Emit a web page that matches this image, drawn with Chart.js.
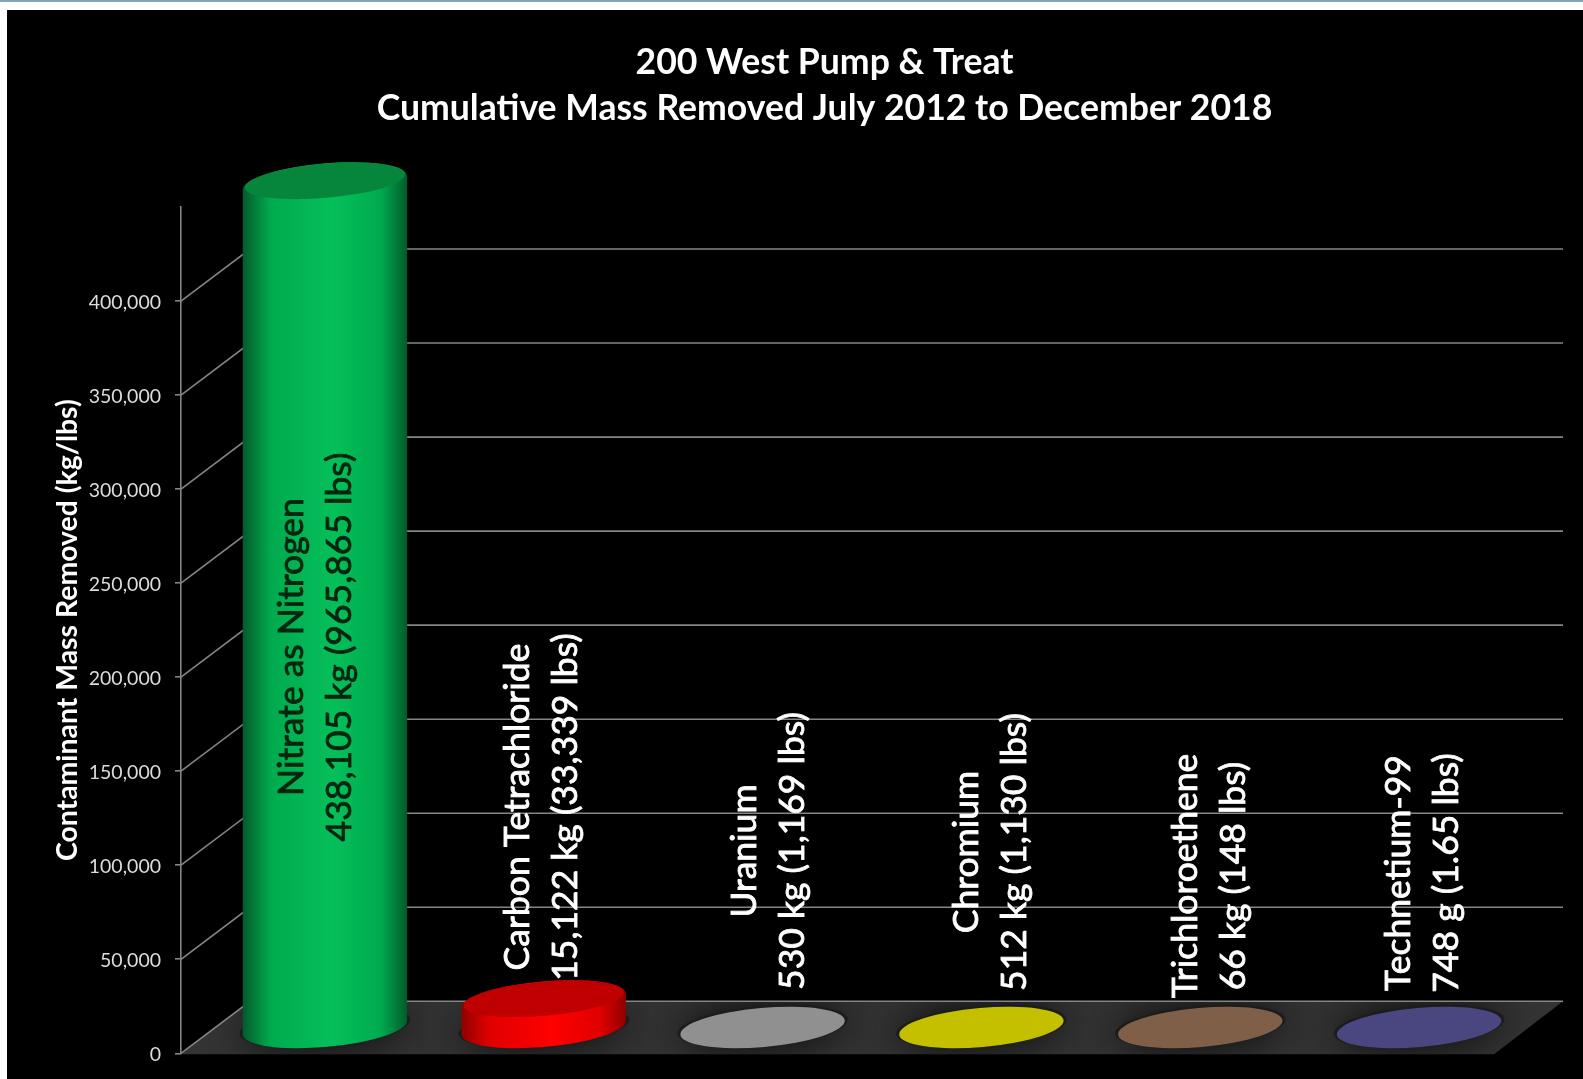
<!DOCTYPE html>
<html>
<head>
<meta charset="utf-8">
<title>200 West Pump &amp; Treat</title>
<style>
html,body{margin:0;padding:0;background:#fff;overflow:hidden;width:1583px;height:1079px}
#stripe{position:absolute;left:0;top:0;width:1583px;height:2px;background:#7fa6b4}
#chart{position:absolute;left:7px;top:10px;background:#000}
</style>
</head>
<body>
<div id="stripe"></div>
<canvas id="chart" width="1576" height="1069"></canvas>
<script src="https://cdn.jsdelivr.net/npm/chart.js@4"></script>
<script>
const titleLines = ['200 West Pump & Treat', 'Cumulative Mass Removed July 2012 to December 2018'];
const yAxisTitle = 'Contaminant Mass Removed (kg/lbs)';
const categories = ['Nitrate as Nitrogen', 'Carbon Tetrachloride', 'Uranium', 'Chromium', 'Trichloroethene', 'Technetium-99'];
const massLabels = ['438,105 kg (965,865 lbs)', '15,122 kg (33,339 lbs)', '530 kg (1,169 lbs)', '512 kg (1,130 lbs)', '66 kg (148 lbs)', '748 g (1.65 lbs)'];
// Plotted heights. The green column reaches the top of the
// axis (450,000) even though its printed label says 438,105 kg.
const plottedKg = [450000, 15122, 530, 512, 66, 0.748];
const barColors = ['#05bf5a', '#ff0000', '#909090', '#c4c000', '#7f5f47', '#4a4680'];
const midColors = ['#00aa4e', '#e00000', '#909090', '#c4c000', '#7f5f47', '#4a4680'];
const capColors = ['#06853d', '#c00000', '#909090', '#c4c000', '#7f5f47', '#4a4680'];
const edgeColors = ['#025a2b', '#8f0000', '#909090', '#c4c000', '#7f5f47', '#4a4680'];
const labelColors = ['#02250f', '#ffffff', '#ffffff', '#ffffff', '#ffffff', '#ffffff'];
const axisMax = 450000, axisStep = 50000;

// Reference look: projection of the 3D box and manual data-label placement.
const DEPTH_X = 69, DEPTH_Y = 52, RX = 82.5, RY = 19.5, TILT = -5 * Math.PI / 180;
const labelShift = [[25, 637], [32, 797], [40, 841], [44, 842], [44, 866], [38, 863]];
const LABEL_GAP = 48;

function ellipsePath(ctx, x, y, rx, ry) { ctx.beginPath(); ctx.ellipse(x, y, rx, ry, TILT, 0, Math.PI * 2); }

const box3d = {
  id: 'box3d',
  afterLayout(chart) { const t = chart.titleBlock; t.left += 74; t.right += 74; },
  beforeDatasetsDraw(chart) {
    const { ctx, chartArea: a, scales: { y } } = chart;
    ctx.save();
    // floor
    ctx.beginPath();
    ctx.moveTo(a.left, a.bottom + 1); ctx.lineTo(a.left + DEPTH_X, a.bottom - DEPTH_Y);
    ctx.lineTo(a.right + DEPTH_X, a.bottom - DEPTH_Y); ctx.lineTo(a.right, a.bottom + 1); ctx.closePath();
    ctx.fillStyle = '#343434'; ctx.fill();
    ctx.save(); ctx.clip();
    chart.getDatasetMeta(0).data.forEach(b => {
      ctx.shadowColor = 'rgba(0,0,0,0.85)'; ctx.shadowBlur = 42;
      ctx.fillStyle = '#1c1c1c';
      ellipsePath(ctx, b.x + DEPTH_X / 2, b.base - DEPTH_Y / 2, RX + 3, RY + 1); ctx.fill();
    });
    ctx.restore();
    // back wall and side wall lines
    ctx.lineWidth = 1.6; ctx.strokeStyle = '#858585';
    y.ticks.forEach(t => {
      const py = y.getPixelForValue(t.value);
      ctx.beginPath();
      ctx.moveTo(a.left, py); ctx.lineTo(a.left + DEPTH_X, py - DEPTH_Y); ctx.lineTo(a.right + DEPTH_X, py - DEPTH_Y);
      ctx.stroke();
    });
    ctx.restore();
  },
  beforeDatasetDraw() { return false; },
  afterDatasetsDraw(chart) {
    const { ctx } = chart;
    const bars = chart.getDatasetMeta(0).data;
    const t0 = Math.atan2(-RY * Math.sin(TILT), RX * Math.cos(TILT));
    const tipX = RX * Math.cos(t0) * Math.cos(TILT) - RY * Math.sin(t0) * Math.sin(TILT);
    const tipY = RX * Math.cos(t0) * Math.sin(TILT) + RY * Math.sin(t0) * Math.cos(TILT);
    bars.forEach((b, i) => {
      const cx = b.x + DEPTH_X / 2, yb = b.base - DEPTH_Y / 2 + 1, yt = b.y - DEPTH_Y / 2 + 2;
      const tall = yb - yt > 3;
      ctx.save();
      if (tall) {
        const g = ctx.createLinearGradient(cx - RX, 0, cx + RX, 0);
        g.addColorStop(0, edgeColors[i]); g.addColorStop(0.17, midColors[i]);
        g.addColorStop(0.55, barColors[i]); g.addColorStop(0.84, midColors[i]); g.addColorStop(1, edgeColors[i]);
        ctx.beginPath();
        ctx.ellipse(cx, yb, RX, RY, TILT, t0, t0 + Math.PI);
        ctx.lineTo(cx - tipX, yt - tipY);
        ctx.lineTo(cx + tipX, yt + tipY);
        ctx.closePath();
        ctx.fillStyle = g; ctx.fill();
        // rim, then darker inner cap
        ellipsePath(ctx, cx, yt, RX, RY); ctx.fillStyle = g; ctx.fill();
        ellipsePath(ctx, cx, yt - 2.2, RX - 2, RY - 2.4);
        ctx.fillStyle = capColors[i]; ctx.fill();
      } else {
        ellipsePath(ctx, cx, yb, RX, RY);
        ctx.fillStyle = b.options.backgroundColor; ctx.fill();
      }
      ctx.restore();
    });
    // data labels
    bars.forEach((b, i) => {
      ctx.save();
      ctx.translate(b.x + labelShift[i][0], labelShift[i][1]);
      ctx.rotate(-Math.PI / 2);
      ctx.font = '35.5px Lato';
      ctx.fillStyle = labelColors[i];
      ctx.strokeStyle = labelColors[i];
      ctx.lineWidth = 0.8;
      ctx.textAlign = 'center'; ctx.textBaseline = 'middle';
      [[categories[i], -LABEL_GAP / 2], [massLabels[i], LABEL_GAP / 2]].forEach(([s, off]) => {
        ctx.fillText(s, 0, off);
        ctx.strokeText(s, 0, off);
      });
      ctx.restore();
    });
  }
};

new Chart(document.getElementById('chart'), {
  type: 'bar',
  data: {
    labels: categories,
    datasets: [{ label: 'Cumulative mass removed (kg)', data: plottedKg, backgroundColor: barColors, barPercentage: 0.75, categoryPercentage: 1 }]
  },
  plugins: [box3d],
  options: {
    responsive: false,
    animation: false,
    layout: { padding: { left: 0, right: 89, top: 0, bottom: 25 } },
    plugins: {
      legend: { display: false },
      tooltip: { enabled: false },
      title: {
        display: true, text: titleLines, color: '#ffffff',
        font: { family: 'Lato', size: 35.6, weight: 'bold', lineHeight: 46 / 35.6 },
        padding: { top: 29.5, bottom: 75.5 }
      }
    },
    scales: {
      x: { display: false },
      y: {
        min: 0, max: axisMax,
        afterBuildTicks(s) { s.ticks = s.ticks.filter(t => t.value < axisMax); },
        afterFit(s) { s.width = 174; },
        ticks: { stepSize: axisStep, color: '#dcdcdc', padding: 14, labelOffset: 1.5, font: { family: 'Lato', size: 19.5 },
                 callback: v => v.toLocaleString('en-US') },
        grid: { drawOnChartArea: false, drawTicks: true, tickLength: 6, color: '#858585', lineWidth: 1.6 },
        border: { display: true, color: '#858585', width: 1.6 },
        title: { display: true, text: yAxisTitle, color: '#ffffff', font: { family: 'Lato', size: 28.4, weight: 'bold', lineHeight: 1 }, padding: { top: 47, bottom: 0 } }
      }
    }
  }
});
</script>
</body>
</html>
